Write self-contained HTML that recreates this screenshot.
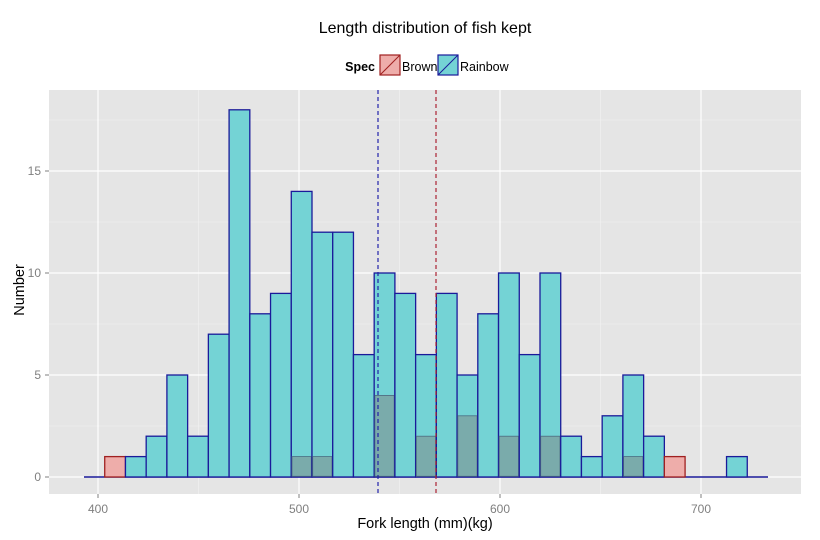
<!DOCTYPE html>
<html><head><meta charset="utf-8"><style>
html,body{margin:0;padding:0;background:#fff;}
svg{display:block;font-family:"Liberation Sans",Arial,sans-serif;}
</style></head><body>
<svg id="s" width="820" height="540" viewBox="0 0 820 540" xmlns="http://www.w3.org/2000/svg">
<rect x="0" y="0" width="820" height="540" fill="#fff"/>
<text x="425" y="33" font-size="16" text-anchor="middle" fill="#000">Length distribution of fish kept</text>
<text x="375" y="71" font-size="12.5" font-weight="bold" text-anchor="end">Spec</text>
<rect x="380" y="55" width="20" height="20" fill="#eeadaa" stroke="#a02020" stroke-width="1.2"/>
<line x1="380" y1="75" x2="400" y2="55" stroke="#a02020" stroke-width="1"/>
<text x="402" y="71" font-size="12.5">Brown</text>
<rect x="438" y="55" width="20" height="20" fill="#74d3d5" stroke="#1a1a9a" stroke-width="1.2"/>
<line x1="438" y1="75" x2="458" y2="55" stroke="#1a1a9a" stroke-width="1"/>
<text x="460" y="71" font-size="12.5">Rainbow</text>
<rect x="49" y="90" width="752" height="404" fill="#e5e5e5"/>
<g id="grid"></g>
<g id="bars"></g>
<line x1="378" y1="90" x2="378" y2="494" stroke="#2222aa" stroke-width="1.2" stroke-dasharray="4,3"/>
<line x1="436" y1="90" x2="436" y2="494" stroke="#aa2233" stroke-width="1.2" stroke-dasharray="4,3"/>
<g font-size="12" fill="#7f7f7f">
<text x="41" y="481" text-anchor="end">0</text>
<text x="41" y="379" text-anchor="end">5</text>
<text x="41" y="277" text-anchor="end">10</text>
<text x="41" y="175" text-anchor="end">15</text>
<text x="98" y="513" text-anchor="middle">400</text>
<text x="299" y="513" text-anchor="middle">500</text>
<text x="500" y="513" text-anchor="middle">600</text>
<text x="701" y="513" text-anchor="middle">700</text>
</g>
<g stroke="#7f7f7f" stroke-width="1">
<line x1="45" y1="477" x2="49" y2="477"/><line x1="45" y1="375" x2="49" y2="375"/>
<line x1="45" y1="273" x2="49" y2="273"/><line x1="45" y1="171" x2="49" y2="171"/>
<line x1="98" y1="494" x2="98" y2="498"/><line x1="299" y1="494" x2="299" y2="498"/>
<line x1="500" y1="494" x2="500" y2="498"/><line x1="701" y1="494" x2="701" y2="498"/>
</g>
<text x="425" y="528" font-size="14.5" text-anchor="middle">Fork length (mm)(kg)</text>
<text transform="translate(24,290) rotate(-90)" font-size="14.5" text-anchor="middle">Number</text>
</svg>
<script>
var NS="http://www.w3.org/2000/svg";
function el(p,t,a){var e=document.createElementNS(NS,t);for(var k in a)e.setAttribute(k,a[k]);p.appendChild(e);return e;}
var g=document.getElementById("grid");
[120,222,324,426].forEach(function(y){el(g,"line",{x1:49,x2:801,y1:y,y2:y,stroke:"#f2f2f2","stroke-width":0.6});});
[198.5,399.5,600.5].forEach(function(x){el(g,"line",{x1:x,x2:x,y1:90,y2:494,stroke:"#f2f2f2","stroke-width":0.6});});
[477,375,273,171].forEach(function(y){el(g,"line",{x1:49,x2:801,y1:y,y2:y,stroke:"#fff","stroke-width":1.2});});
[98,299,500,701].forEach(function(x){el(g,"line",{x1:x,x2:x,y1:90,y2:494,stroke:"#fff","stroke-width":1.2});});
var R=[0,0,1,2,5,2,7,18,8,9,14,12,12,6,10,9,6,9,5,8,10,6,10,2,1,3,5,2,0,0,0,1,0];
var B={1:1,10:1,11:1,14:4,16:2,18:3,20:2,22:2,26:1,28:1};
var b=document.getElementById("bars");var w=20.727,x0=84,y0=477,u=20.4;
el(b,"line",{x1:84,x2:768,y1:477,y2:477,stroke:"#1a1a9a","stroke-width":1.5});
for(var i=0;i<33;i++){
 var x=x0+w*i;
 if(B[i]&&!R[i]) el(b,"rect",{x:x,y:y0-u*B[i],width:w,height:u*B[i],fill:"#eeadaa",stroke:"#a02020","stroke-width":1.3});
 if(R[i]) el(b,"rect",{x:x,y:y0-u*R[i],width:w,height:u*R[i],fill:"#74d3d5",stroke:"#1a1a9a","stroke-width":1.3});
 if(B[i]&&R[i]) el(b,"rect",{x:x+0.7,y:y0-u*B[i],width:w-1.4,height:u*B[i]-0.7,fill:"#7aabab",stroke:"#4a6a80","stroke-width":0.8});
}
</script>
</body></html>
